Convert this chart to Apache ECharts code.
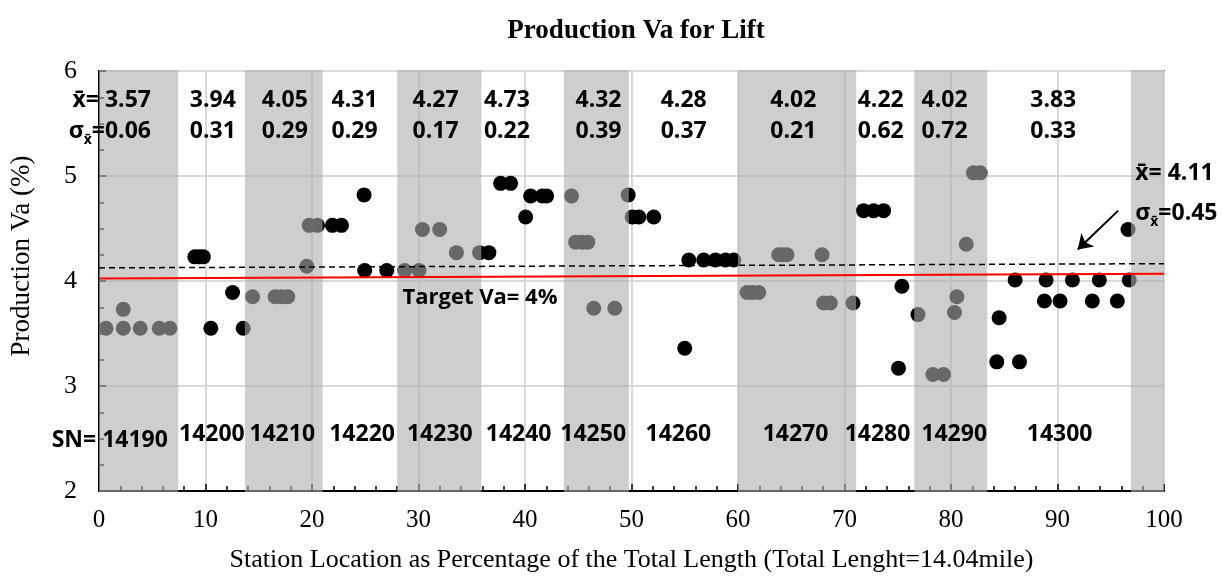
<!DOCTYPE html>
<html><head><meta charset="utf-8">
<script src="https://cdn.jsdelivr.net/npm/echarts@6/dist/echarts.min.js"></script>
<style>html,body{margin:0;padding:0;background:#fff}#c{width:1223px;height:582px}</style>
</head><body><div id="c"></div>
<script>
// ---- data ----
const pointX = [0.66, 2.28, 2.28, 3.87, 5.66, 6.66,
  9.0, 9.4, 9.8, 10.5, 12.54, 13.54,
  14.42, 16.54, 17.14, 17.73, 19.51, 19.73, 20.52,
  21.92, 22.77, 24.89, 24.95, 27.02,
  28.7, 30.05, 30.37, 31.99, 33.56, 35.74,
  36.61, 37.71, 38.65, 40.06, 40.53, 41.62, 42.03,
  44.37, 44.75, 45.37, 45.9, 46.46, 48.43, 49.69,
  50.07, 50.69, 52.09, 55.0, 55.38, 56.78, 57.88, 58.82, 59.6,
  60.85, 61.35, 61.94, 63.82, 64.2, 64.6, 67.89, 68.04, 68.67, 70.8,
  71.79, 72.73, 73.67, 75.07, 75.39,
  76.9, 78.3, 79.3, 80.33, 80.55, 81.43, 82.11, 82.74,
  84.3, 84.52, 86.02, 86.43, 88.77, 88.93, 90.24, 91.4, 93.27, 93.93, 95.62, 96.62, 96.74];
const pointY = [3.55, 3.55, 3.73, 3.55, 3.55, 3.55,
  4.23, 4.23, 4.23, 3.55, 3.89, 3.55,
  3.85, 3.85, 3.85, 3.85, 4.14, 4.53, 4.53,
  4.53, 4.53, 4.82, 4.10, 4.10,
  4.10, 4.10, 4.49, 4.49, 4.27, 4.27,
  4.27, 4.93, 4.93, 4.61, 4.81, 4.81, 4.81,
  4.81, 4.37, 4.37, 4.37, 3.74, 3.74, 4.82,
  4.61, 4.61, 4.61, 3.36, 4.20, 4.20, 4.20, 4.20, 4.20,
  3.89, 3.89, 3.89, 4.25, 4.25, 4.25, 4.25, 3.79, 3.79, 3.79,
  4.67, 4.67, 4.67, 3.17, 3.95,
  3.68, 3.11, 3.11, 3.70, 3.85, 4.35, 5.03, 5.03,
  3.23, 3.65, 4.01, 3.23, 3.81, 4.01, 3.81, 4.01, 3.81, 4.01, 3.81, 4.49, 4.01];

// shaded station bands (x extent, % of length)
const bandStart = [0, 13.7, 28.0, 43.65, 60.0, 76.55, 96.9];
const bandEnd   = [7.44, 21.0, 35.9, 49.75, 71.1, 83.4, 100];

// station segments
const segSN    = ['14190','14200','14210','14220','14230','14240','14250','14260','14270','14280','14290','14300'];
const segSNX   = [6.47, 10.6, 17.2, 24.7, 32.0, 39.4, 46.4, 54.4, 65.4, 73.1, 80.3, 90.2];
const segMean  = ['3.57','3.94','4.05','4.31','4.27','4.73','4.32','4.28','4.02','4.22','4.02','3.83'];
const segSigma = ['0.06','0.31','0.29','0.29','0.17','0.22','0.39','0.37','0.21','0.62','0.72','0.33'];
const segStatX = [4.88, 10.69, 17.45, 24.0, 31.6, 38.3, 46.9, 54.9, 65.2, 73.4, 79.4, 89.6];
const statMeanY = 5.72, statSigmaY = 5.42, snY = 2.54, snFirstY = 2.48;

const overallMean = '4.11', overallSigma = '0.45';
const overallLabelX = 97.3, overallMeanY = 5.02, overallSigmaY = 4.64;
const targetLine = [[0, 4.025], [100, 4.07]];
const meanLine   = [[0, 4.125], [100, 4.165]];
const arrowLine  = [[95.7, 4.67], [91.9, 4.30]];
const targetLabel = {x: 28.5, y: 3.84, text: 'Target Va= 4%'};

const xMin = 0, xMax = 100, xInterval = 10;
const yMin = 2, yMax = 6, yInterval = 1;

// ---- chart ----
const SERIF = "'Liberation Serif','Times New Roman',serif";
const SANS = "'Open Sans','Noto Sans',sans-serif";
const chart = echarts.init(document.getElementById('c'), null, {renderer: 'canvas'});

const richSig = {
  n: {fontFamily: SANS, fontWeight: 'bold', fontSize: 23, color: '#000', lineHeight: 30, verticalAlign: 'middle'},
  s: {fontFamily: SANS, fontWeight: 'bold', fontSize: 14, color: '#000', lineHeight: 30, verticalAlign: 'bottom'}
};
const txt = {fontFamily: SANS, fontWeight: 'bold', fontSize: 23, color: '#000', opacity: 1};

function labelSeries(data, align, formatter, extra) {
  return {
    type: 'scatter', z: 8, silent: true, symbolSize: 0,
    itemStyle: {opacity: 1},
    data: data,
    label: Object.assign({show: true, position: 'inside', align: align, verticalAlign: 'middle',
      formatter: formatter, rich: richSig}, txt, extra || {})
  };
}

const meanData = segMean.map((m, i) => [segStatX[i], statMeanY, (i === 0 ? 'x\u0304= ' : '') + m]);
const sigmaData = segSigma.map((s, i) => [segStatX[i], statSigmaY, s, i === 0 ? 1 : 0]);
const snData = segSN.map((s, i) => [segSNX[i], i === 0 ? snFirstY : snY, (i === 0 ? 'SN= ' : '') + s]);
const firstRight = (d, i) => i === 0 ? {value: d, label: {align: 'right'}} : d;

const option = {
  animation: false,
  backgroundColor: '#fff',
  title: {
    text: 'Production Va for Lift', left: 631, top: 13, textAlign: 'center',
    textStyle: {fontFamily: SERIF, fontWeight: 'bold', fontSize: 27, color: '#000'}
  },
  grid: {left: 98, right: 59, top: 71, bottom: 91, show: true, borderColor: '#000', borderWidth: 1.5, backgroundColor: 'transparent'},
  xAxis: {
    type: 'value', min: xMin, max: xMax, interval: xInterval,
    name: 'Station Location as Percentage of the Total Length (Total Lenght=14.04mile)',
    nameLocation: 'middle', nameGap: 56,
    nameTextStyle: {fontFamily: SERIF, fontSize: 26, color: '#000'},
    axisLine: {show: true, lineStyle: {color: '#000', width: 2}},
    axisTick: {show: true, inside: true, length: 7, lineStyle: {color: '#000', width: 1.5}},
    minorTick: {show: true, splitNumber: 5, length: 5, lineStyle: {color: '#000', width: 1.5}},
    axisLabel: {fontFamily: SERIF, fontSize: 25, color: '#000', margin: 17},
    splitLine: {show: true, lineStyle: {color: '#d9d9d9', width: 2}}
  },
  yAxis: {
    type: 'value', min: yMin, max: yMax, interval: yInterval,
    name: 'Production Va (%)', nameLocation: 'middle', nameGap: 64,
    nameTextStyle: {fontFamily: SERIF, fontSize: 27, color: '#000', padding: [0, 0, 0, 50]},
    axisLine: {show: true, lineStyle: {color: '#000', width: 2}},
    axisTick: {show: true, inside: true, length: 7, lineStyle: {color: '#000', width: 1.5}},
    minorTick: {show: true, splitNumber: 4, length: 5, lineStyle: {color: '#000', width: 1.5}},
    axisLabel: {fontFamily: SERIF, fontSize: 26, color: '#000', margin: 22},
    splitLine: {show: true, lineStyle: {color: '#d9d9d9', width: 2}}
  },
  series: [
    {
      type: 'scatter', z: 2, silent: true, symbolSize: 15,
      itemStyle: {color: '#000', opacity: 1},
      data: pointX.map((x, i) => [x, pointY[i]])
    },
    {
      type: 'custom', z: 3, silent: true, clip: false,
      data: bandStart.map((s, i) => [s, bandEnd[i]]),
      encode: {x: [0, 1]},
      renderItem: function (params, api) {
        const p0 = api.coord([api.value(0), yMax]);
        const p1 = api.coord([api.value(1), yMin]);
        return {type: 'rect', shape: {x: p0[0], y: p0[1] - 1, width: p1[0] - p0[0], height: p1[1] - p0[1] + 2},
          style: {fill: 'rgba(176,172,172,0.6)'}};
      }
    },
    {
      type: 'line', z: 6, silent: true, symbol: 'none', data: targetLine,
      lineStyle: {color: '#ff0000', width: 2}
    },
    {
      type: 'line', z: 6, silent: true, symbol: 'none', data: meanLine,
      lineStyle: {color: '#000', width: 1.5, type: [6, 4]}
    },
    {
      type: 'lines', coordinateSystem: 'cartesian2d', z: 7, silent: true,
      symbol: ['none', 'arrow'], symbolSize: 14,
      lineStyle: {color: '#000', width: 2, opacity: 1},
      data: [{coords: arrowLine}]
    },
    labelSeries(meanData.map(firstRight), 'center', p => p.value[2]),
    labelSeries(sigmaData.map(firstRight), 'center', p => p.value[3] ? '{n|\u03c3}{s|x\u0304}{n|=' + p.value[2] + '}' : '{n|' + p.value[2] + '}'),
    labelSeries(snData.map(firstRight), 'center', p => p.value[2]),
    labelSeries([[overallLabelX, overallMeanY, 'x\u0304= ' + overallMean]], 'left', p => p.value[2]),
    labelSeries([[overallLabelX, overallSigmaY, overallSigma]], 'left', p => '{n|\u03c3}{s|x\u0304}{n|=' + p.value[2] + '}'),
    labelSeries([[targetLabel.x, targetLabel.y, targetLabel.text]], 'left', p => p.value[2], {fontSize: 22})
  ]
};
chart.setOption(option);
</script></body></html>
